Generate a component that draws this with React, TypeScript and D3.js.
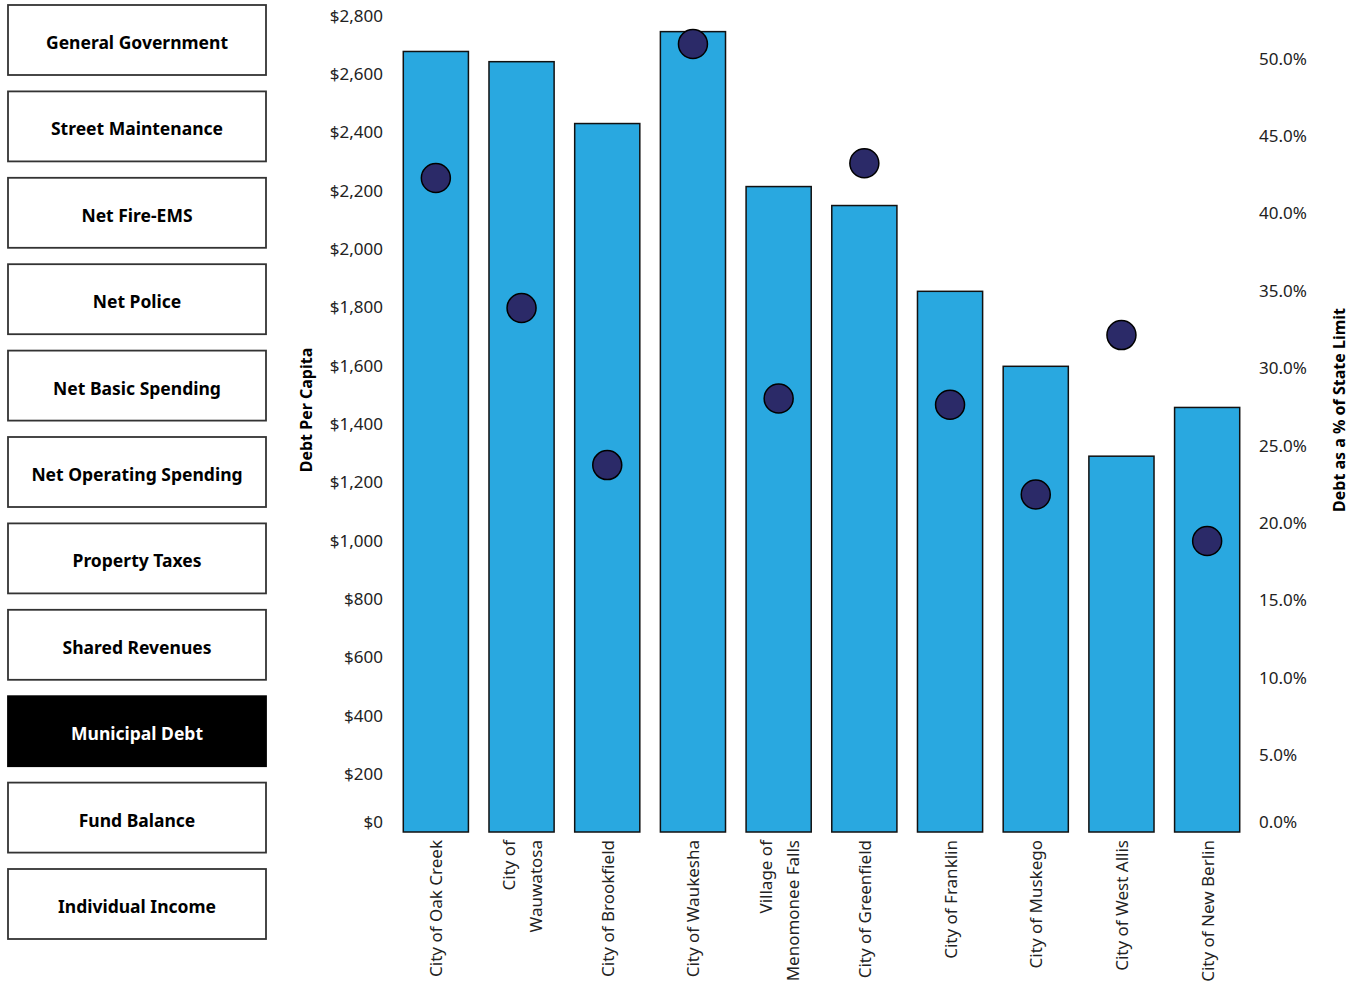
import React from "react";
import * as d3 from "d3";

const buttons = [
  "General Government",
  "Street Maintenance",
  "Net Fire-EMS",
  "Net Police",
  "Net Basic Spending",
  "Net Operating Spending",
  "Property Taxes",
  "Shared Revenues",
  "Municipal Debt",
  "Fund Balance",
  "Individual Income",
];
const activeButton = "Municipal Debt";

const municipalities = [
  ["City of Oak Creek"],
  ["City of", "Wauwatosa"],
  ["City of Brookfield"],
  ["City of Waukesha"],
  ["Village of", "Menomonee Falls"],
  ["City of Greenfield"],
  ["City of Franklin"],
  ["City of Muskego"],
  ["City of West Allis"],
  ["City of New Berlin"],
];
const debtPerCapita = [2675, 2640, 2428, 2743, 2212, 2147, 1853, 1596, 1288, 1455];
const pctOfLimit = [0.4225, 0.3385, 0.237, 0.509, 0.28, 0.432, 0.276, 0.218, 0.321, 0.188];

const leftTicks = [0, 200, 400, 600, 800, 1000, 1200, 1400, 1600, 1800, 2000, 2200, 2400, 2600, 2800];
const rightTicks = [0, 0.05, 0.1, 0.15, 0.2, 0.25, 0.3, 0.35, 0.4, 0.45, 0.5];

const FONT = "'Noto Sans', 'Open Sans', sans-serif";

export default function App() {
  const W = 1356;
  const H = 984;
  const plotTop = 15;
  const plotBottom = 832;
  const y = d3.scaleLinear().domain([0, 2800]).range([plotBottom, plotTop]);
  const y2 = d3.scaleLinear().domain([0, 0.5]).range([plotBottom, plotBottom - 774]);
  const x = d3
    .scaleBand()
    .domain(municipalities.map((_, i) => String(i)))
    .range([393, 1250])
    .paddingInner(0.24)
    .paddingOuter(0.12);
  const fmtDollar = (v: number) => "$" + d3.format(",")(v);
  const fmtPct = d3.format(".1%");
  const clampY = (v: number) => Math.min(v, plotBottom - 11);

  const btnTop = 5;
  const btnStep = 86.4;
  const btnH = 70;

  return (
    <svg width={W} height={H} style={{ position: "absolute", left: 0, top: 0, background: "#fff" }} fontFamily={FONT}>
      {buttons.map((b, i) => {
        const active = b === activeButton;
        const top = btnTop + i * btnStep;
        return (
          <g key={b}>
            <rect
              x={8}
              y={top}
              width={258}
              height={btnH}
              fill={active ? "#000" : "#fff"}
              stroke={active ? "#000" : "#333"}
              strokeWidth={1.8}
            />
            <text
              x={137}
              y={top + btnH / 2 + 2}
              textAnchor="middle"
              dominantBaseline="central"
              fontSize={17.5}
              fontWeight={700}
              fill={active ? "#fff" : "#000"}
            >
              {b}
            </text>
          </g>
        );
      })}

      {/* left axis */}
      {leftTicks.map((t) => (
        <text key={t} x={383} y={clampY(y(t))} textAnchor="end" dominantBaseline="central" fontSize={17} fill="#222">
          {fmtDollar(t)}
        </text>
      ))}
      <text
        transform={`translate(306,410) rotate(-90)`}
        textAnchor="middle"
        dominantBaseline="central"
        fontSize={16}
        fontWeight={700}
        fill="#000"
      >
        Debt Per Capita
      </text>

      {/* right axis */}
      {rightTicks.map((t) => (
        <text key={t} x={1259} y={clampY(y2(t))} textAnchor="start" dominantBaseline="central" fontSize={17} fill="#222">
          {fmtPct(t)}
        </text>
      ))}
      <text
        transform={`translate(1339,410) rotate(-90)`}
        textAnchor="middle"
        dominantBaseline="central"
        fontSize={16}
        fontWeight={700}
        fill="#000"
      >
        Debt as a % of State Limit
      </text>

      {/* bars */}
      {debtPerCapita.map((v, i) => (
        <rect
          key={i}
          x={x(String(i))!}
          y={y(v)}
          width={x.bandwidth()}
          height={plotBottom - y(v)}
          fill="#29a8e0"
          stroke="#111"
          strokeWidth={1.5}
        />
      ))}

      {/* dots */}
      {pctOfLimit.map((p, i) => (
        <circle
          key={i}
          cx={x(String(i))! + x.bandwidth() / 2}
          cy={y2(p)}
          r={14.5}
          fill="#2b2a68"
          stroke="#000"
          strokeWidth={1.5}
        />
      ))}

      {/* x labels */}
      {municipalities.map((lines, i) => {
        const cx = x(String(i))! + x.bandwidth() / 2;
        return lines.map((ln, j) => {
          const off = (j - (lines.length - 1) / 2) * 27;
          return (
            <text
              key={i + "-" + j}
              transform={`translate(${cx + off},840) rotate(-90)`}
              textAnchor="end"
              dominantBaseline="central"
              fontSize={17}
              fill="#222"
            >
              {ln}
            </text>
          );
        });
      })}
    </svg>
  );
}
